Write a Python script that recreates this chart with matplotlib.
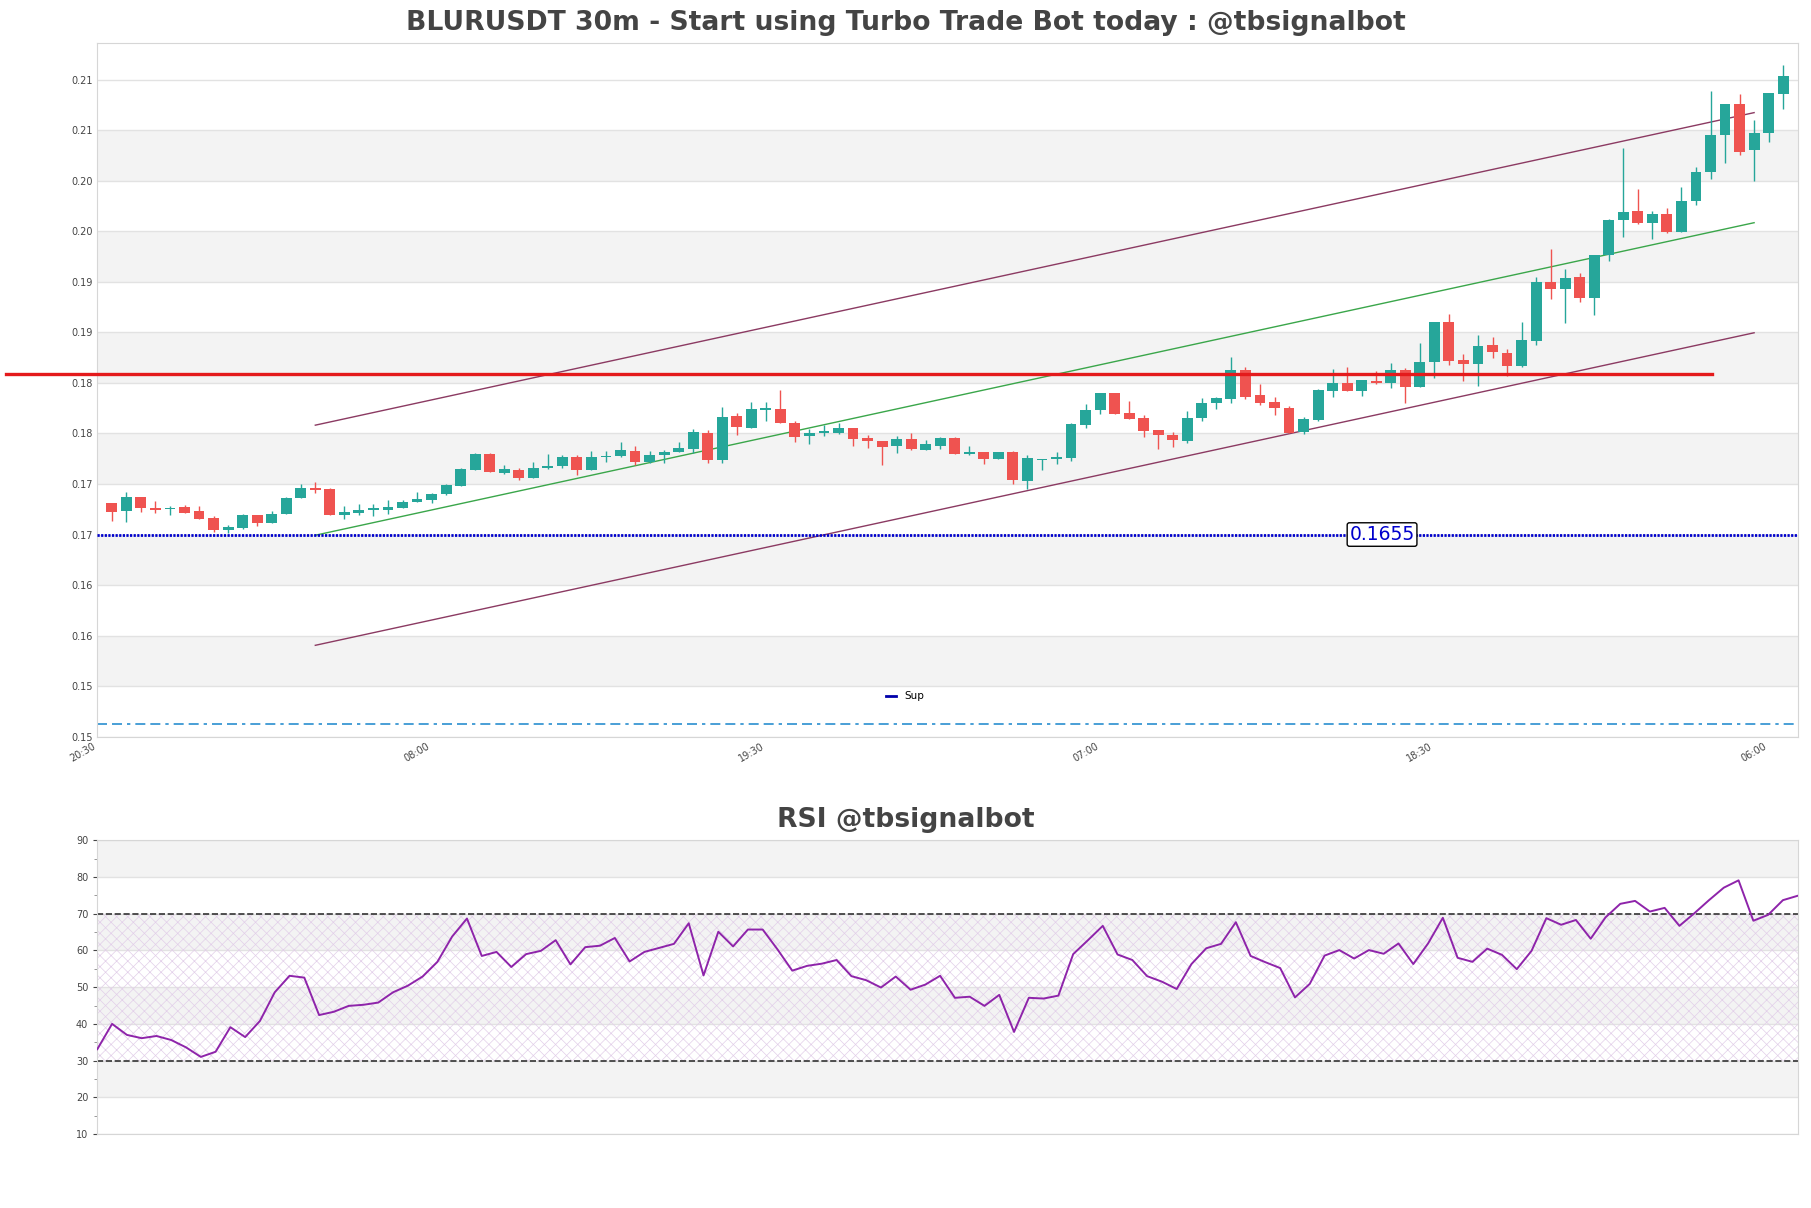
import numpy as np
import matplotlib
matplotlib.use("Agg")
import matplotlib.pyplot as plt
from matplotlib.lines import Line2D

plt.rcParams['hatch.linewidth'] = 0.5

# 30m candles, first one at 21:00
opens = [0.16859, 0.16781, 0.16921, 0.16808, 0.16798, 0.16819, 0.16778, 0.16717, 0.16598, 0.16618,
         0.16747, 0.16669, 0.16751, 0.16914, 0.17012, 0.17002, 0.16744, 0.16761, 0.16791, 0.16791,
         0.16812, 0.16873, 0.16890, 0.16948, 0.17034, 0.17192, 0.17350, 0.17156, 0.17192, 0.17106,
         0.17205, 0.17225, 0.17321, 0.17192, 0.17314, 0.17331, 0.17380, 0.17268, 0.17334, 0.17370,
         0.17397, 0.17555, 0.17284, 0.17727, 0.17608, 0.17786, 0.17793, 0.17654, 0.17522, 0.17552,
         0.17558, 0.17608, 0.17502, 0.17476, 0.17430, 0.17492, 0.17390, 0.17430, 0.17505, 0.17347,
         0.17364, 0.17301, 0.17364, 0.17080, 0.17288, 0.17301, 0.17311, 0.17637, 0.17783, 0.17948,
         0.17750, 0.17703, 0.17581, 0.17535, 0.17479, 0.17707, 0.17855, 0.17895, 0.18179, 0.17931,
         0.17862, 0.17806, 0.17568, 0.17685, 0.17974, 0.18050, 0.17974, 0.18073, 0.18050, 0.18182,
         0.18007, 0.18254, 0.18655, 0.18277, 0.18238, 0.18428, 0.18346, 0.18215, 0.18461, 0.19050,
         0.18978, 0.19093, 0.18889, 0.19313, 0.19659, 0.19748, 0.19629, 0.19718, 0.19547, 0.19846,
         0.20139, 0.20498, 0.20807, 0.20350, 0.20524, 0.20909]
highs = [0.16866, 0.16972, 0.16921, 0.16880, 0.16836, 0.16846, 0.16829, 0.16730, 0.16642, 0.16754,
         0.16747, 0.16778, 0.16917, 0.17050, 0.17070, 0.17009, 0.16836, 0.16856, 0.16856, 0.16887,
         0.16887, 0.16972, 0.16958, 0.17050, 0.17212, 0.17357, 0.17357, 0.17238, 0.17212, 0.17268,
         0.17347, 0.17337, 0.17337, 0.17377, 0.17377, 0.17466, 0.17430, 0.17377, 0.17383, 0.17463,
         0.17598, 0.17588, 0.17812, 0.17753, 0.17865, 0.17859, 0.17984, 0.17677, 0.17598, 0.17637,
         0.17654, 0.17608, 0.17535, 0.17476, 0.17525, 0.17552, 0.17486, 0.17519, 0.17519, 0.17426,
         0.17364, 0.17364, 0.17380, 0.17337, 0.17298, 0.17370, 0.17654, 0.17842, 0.17948, 0.17948,
         0.17872, 0.17730, 0.17581, 0.17562, 0.17773, 0.17901, 0.17915, 0.18304, 0.18205, 0.18040,
         0.17908, 0.17822, 0.17717, 0.17991, 0.18188, 0.18211, 0.18080, 0.18172, 0.18247, 0.18198,
         0.18445, 0.18655, 0.18731, 0.18336, 0.18527, 0.18501, 0.18386, 0.18655, 0.19093, 0.19373,
         0.19175, 0.19136, 0.19313, 0.19675, 0.20370, 0.19965, 0.19748, 0.19777, 0.19991, 0.20185,
         0.20935, 0.20807, 0.20906, 0.20656, 0.20916, 0.21192]
lows = [0.16686, 0.16676, 0.16771, 0.16761, 0.16740, 0.16761, 0.16700, 0.16577, 0.16564, 0.16608,
        0.16638, 0.16669, 0.16751, 0.16907, 0.16958, 0.16740, 0.16700, 0.16747, 0.16734, 0.16751,
        0.16812, 0.16873, 0.16863, 0.16938, 0.17027, 0.17185, 0.17166, 0.17149, 0.17086, 0.17106,
        0.17199, 0.17212, 0.17136, 0.17185, 0.17265, 0.17314, 0.17241, 0.17261, 0.17258, 0.17364,
        0.17357, 0.17258, 0.17258, 0.17532, 0.17601, 0.17670, 0.17651, 0.17463, 0.17449, 0.17522,
        0.17542, 0.17423, 0.17403, 0.17241, 0.17360, 0.17387, 0.17390, 0.17400, 0.17344, 0.17337,
        0.17251, 0.17301, 0.17047, 0.16997, 0.17192, 0.17251, 0.17281, 0.17608, 0.17746, 0.17746,
        0.17690, 0.17519, 0.17400, 0.17420, 0.17459, 0.17677, 0.17796, 0.17855, 0.17895, 0.17835,
        0.17733, 0.17552, 0.17545, 0.17678, 0.17909, 0.17968, 0.17918, 0.18040, 0.17997, 0.17853,
        0.18007, 0.18096, 0.18228, 0.18073, 0.18017, 0.18297, 0.18122, 0.18205, 0.18425, 0.18879,
        0.18642, 0.18853, 0.18721, 0.19257, 0.19498, 0.19619, 0.19471, 0.19530, 0.19547, 0.19807,
        0.20070, 0.20228, 0.20300, 0.20047, 0.20435, 0.20761]
closes = [0.16771, 0.16921, 0.16808, 0.16791, 0.16808, 0.16761, 0.16700, 0.16598, 0.16625, 0.16747,
          0.16669, 0.16757, 0.16910, 0.17009, 0.16995, 0.16740, 0.16768, 0.16795, 0.16808, 0.16819,
          0.16870, 0.16900, 0.16951, 0.17043, 0.17202, 0.17350, 0.17166, 0.17199, 0.17113, 0.17212,
          0.17232, 0.17321, 0.17192, 0.17321, 0.17331, 0.17390, 0.17268, 0.17340, 0.17370, 0.17403,
          0.17568, 0.17284, 0.17713, 0.17614, 0.17793, 0.17799, 0.17651, 0.17512, 0.17555, 0.17578,
          0.17608, 0.17492, 0.17476, 0.17420, 0.17492, 0.17400, 0.17446, 0.17505, 0.17347, 0.17364,
          0.17301, 0.17364, 0.17090, 0.17307, 0.17298, 0.17314, 0.17644, 0.17783, 0.17948, 0.17746,
          0.17697, 0.17578, 0.17538, 0.17489, 0.17703, 0.17852, 0.17898, 0.18179, 0.17911, 0.17855,
          0.17806, 0.17558, 0.17694, 0.17984, 0.18050, 0.17974, 0.18080, 0.18050, 0.18182, 0.18007,
          0.18261, 0.18655, 0.18270, 0.18238, 0.18418, 0.18353, 0.18221, 0.18474, 0.19050, 0.18978,
          0.19086, 0.18889, 0.19313, 0.19659, 0.19741, 0.19629, 0.19718, 0.19540, 0.19846, 0.20133,
          0.20498, 0.20807, 0.20337, 0.20518, 0.20916, 0.21083]

rsi = [33.1, 40.0, 37.0, 36.1, 36.7, 35.6, 33.6, 31.0, 32.4, 39.1,
       36.4, 40.8, 48.6, 53.1, 52.6, 42.4, 43.3, 44.9, 45.2, 45.8,
       48.6, 50.4, 52.9, 56.9, 63.8, 68.7, 58.5, 59.6, 55.5, 59.0,
       59.9, 62.8, 56.2, 60.9, 61.3, 63.4, 57.0, 59.6, 60.7, 61.8,
       67.4, 53.2, 65.1, 61.1, 65.7, 65.7, 60.3, 54.5, 55.8, 56.4,
       57.4, 53.0, 51.9, 49.9, 52.9, 49.3, 50.7, 53.1, 47.1, 47.4,
       44.9, 47.9, 37.8, 47.1, 46.9, 47.7, 59.0, 62.8, 66.7, 58.9,
       57.4, 53.0, 51.5, 49.5, 56.3, 60.6, 61.8, 67.7, 58.5, 56.8,
       55.2, 47.2, 50.9, 58.6, 60.1, 57.8, 60.1, 59.1, 61.9, 56.3,
       61.9, 68.9, 58.0, 56.9, 60.5, 58.8, 54.9, 59.9, 68.8, 67.0,
       68.3, 63.2, 69.0, 72.7, 73.5, 70.6, 71.6, 66.7, 70.1, 73.7,
       77.1, 79.1, 68.1, 69.7, 73.7, 74.9]

time_labels = ['20:30', '08:00', '19:30', '07:00', '18:30', '06:00']

sup_level = 0.1655
res_level = 0.1814
low_level = 0.14675

# regression channel (start index, end index) and its prices
chan_x = [14, 113]
chan_upper = [0.17632, 0.20724]
chan_mid = [0.16543, 0.19635]
chan_lower = [0.15454, 0.18546]

green = '#26a69a'
red = '#ef5350'
band = '#f3f3f3'
grid_c = '#e2e2e2'

n = len(closes)
x = np.arange(n)

fig = plt.figure(figsize=(18.11, 12.08), dpi=100)
ax = fig.add_axes([0.05373, 0.39016, 0.93893, 0.5740])
ax2 = fig.add_axes([0.05373, 0.06126, 0.93893, 0.2431])

# price panel
y0, y1 = 0.1455, 0.2141
yt = np.arange(y0, 0.2106, 0.005)
ax.set_xlim(-1, n)
ax.set_ylim(y0, y1)
for k in range(1, len(yt) - 1, 2):
    ax.axhspan(yt[k], yt[k + 1], color=band, lw=0, zorder=0)
for v in yt:
    ax.axhline(v, color=grid_c, lw=1, zorder=0.5)

for i in x:
    o, h, l, c = opens[i], highs[i], lows[i], closes[i]
    col = green if c >= o else red
    ax.vlines(i, l, h, color=col, lw=1, zorder=3)
    ax.bar(i, max(abs(c - o), 0.00004), bottom=min(o, c), width=0.75, color=col, lw=0, zorder=3)

ax.plot(chan_x, chan_upper, color='#8b3a62', lw=1, zorder=2)
ax.plot(chan_x, chan_lower, color='#8b3a62', lw=1, zorder=2)
ax.plot(chan_x, chan_mid, color='#3aa64a', lw=1, zorder=2)

ax.plot([-7.25, 110.1], [res_level, res_level], color='#e41a1c', lw=2.4, clip_on=False, zorder=4)
ax.axhline(sup_level, color='#0000cc', lw=2, dashes=[0.8, 0.5], zorder=4)
ax.axhline(low_level, color='#2a8fd0', lw=1.2, dashes=[6, 3, 6, 3, 2, 3], zorder=2)

ax.text(87.4, sup_level, '{0:.4f}'.format(sup_level), color='#0000cc', fontsize=13.5,
        ha='center', va='center', zorder=5,
        bbox=dict(boxstyle='round,pad=0.12', fc='white', ec='black', lw=1))

sup_handle = Line2D([], [], color='#0000aa', lw=2)
ax.legend([sup_handle], ['Sup'], loc='center', bbox_to_anchor=(0.475, 0.058), frameon=False,
          fontsize=7.5, handlelength=1.0)

ax.set_yticks(yt)
ax.set_yticklabels(['{0:.2f}'.format(v) for v in yt])
ax.set_xticks(np.arange(-1, n, 23))
ax.set_xticklabels(time_labels, rotation=30, ha='right')
ax.tick_params(labelsize=7, colors='#444444', length=0)

# rsi panel
ax2.set_xlim(0, n - 1)
ax2.set_ylim(10, 90)
for lo in [80, 60, 40, 20]:
    ax2.axhspan(lo, lo + 10, color=band, lw=0, zorder=0)
for v in range(10, 91, 10):
    ax2.axhline(v, color=grid_c, lw=1, zorder=0.5)
ax2.fill_between([0, n - 1], 30, 70, facecolor='none', edgecolor='#e2cfe9', hatch='xxx', lw=0, zorder=1)
ax2.axhline(70, color='#333333', lw=1.2, ls='--', zorder=2)
ax2.axhline(30, color='#333333', lw=1.2, ls='--', zorder=2)
ax2.plot(x, rsi, color='#8e24aa', lw=1.4, zorder=3)
ax2.set_yticks(range(10, 91, 10))
ax2.set_yticks(range(15, 90, 10), minor=True)
ax2.set_xticks([])
ax2.tick_params(labelsize=7, colors='#444444', length=3)
ax2.tick_params(which='minor', length=2, colors='#888888')

for a in [ax, ax2]:
    for s in a.spines.values():
        s.set_color('#d6d6d6')

fig.text(0.5, 0.981, 'BLURUSDT 30m - Start using Turbo Trade Bot today : @tbsignalbot',
         ha='center', va='center', fontsize=19.2, fontweight='bold', color='#444444')
fig.text(0.5, 0.3212, 'RSI @tbsignalbot', ha='center', va='center', fontsize=19.2,
         fontweight='bold', color='#444444')

fig.savefig('out.png', dpi=100)
